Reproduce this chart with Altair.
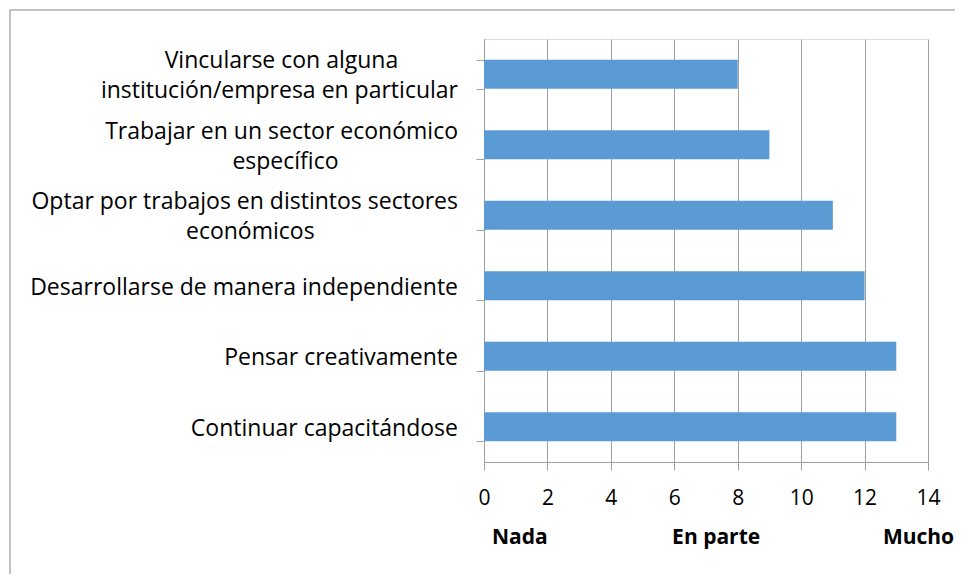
import altair as alt
import pandas as pd

categories = [
    "Vincularse con alguna|institución/empresa en particular",
    "Trabajar en un sector económico|específico",
    "Optar por trabajos en distintos sectores|económicos",
    "Desarrollarse de manera independiente",
    "Pensar creativamente",
    "Continuar capacitándose",
]
values = [8, 9, 11, 12, 13, 13]

scale_labels = ["Nada", "En parte", "Mucho"]
scale_label_pos = [1.13, 7.32, 13.7]

FONT = "Open Sans"
GRID = "#a0a0a0"
NBSP = "\u00a0"
ZWSP = "\u200b"  # keeps trailing padding from being trimmed
NBSP_EM = 0.26


def est_width(s):
    # rough Open Sans advance widths (em units)
    w = 0.0
    for ch in s:
        if ch in "iljí":
            w += 0.25
        elif ch in "tfr":
            w += 0.35
        elif ch == " ":
            w += 0.26
        elif ch == "/":
            w += 0.37
        elif ch in "mw":
            w += 0.86
        elif ch.isupper():
            w += 0.62
        else:
            w += 0.56
    return w


def pad(line, widest):
    n = int(round((widest - est_width(line)) / 2 / NBSP_EM))
    return line + NBSP * n + ZWSP if n > 0 else line


rows = []
for c, v in zip(categories, values):
    parts = c.split("|")
    l1 = parts[0]
    l2 = parts[1] if len(parts) > 1 else ""
    if l2:
        widest = max(est_width(l1), est_width(l2))
        l1, l2 = pad(l1, widest), pad(l2, widest)
    rows.append({"cat": c, "val": v, "l1": l1, "l2": l2})

df = pd.DataFrame(rows)
df_lab = pd.DataFrame({"lab": scale_labels, "pos": scale_label_pos})
df_frame = pd.DataFrame({"a": [0]})

xscale = alt.Scale(domain=[0, 14], nice=False)
yscale = alt.Scale(paddingInner=0.59, paddingOuter=0.295)

base = alt.Chart(df)

bars = base.mark_bar(color="#5B9BD5").encode(
    x=alt.X(
        "val:Q",
        scale=xscale,
        axis=alt.Axis(
            values=[0, 2, 4, 6, 8, 10, 12, 14],
            title=None,
            grid=True,
            gridColor=GRID,
            gridWidth=1,
            domainColor=GRID,
            tickColor=GRID,
            tickSize=8,
            labelFont=FONT,
            labelFontSize=21,
            labelColor="#000000",
            labelPadding=17,
            labelFlush=False,
        ),
    ),
    y=alt.Y(
        "cat:N",
        sort=None,
        scale=yscale,
        axis=alt.Axis(
            title=None,
            tickBand="extent",
            domainColor=GRID,
            tickColor=GRID,
            tickSize=8,
            labels=False,
        ),
    ),
)

ytext = dict(font=FONT, fontSize=23, color="#000000", align="right", baseline="middle")
yenc = alt.Y("cat:N", sort=None, scale=yscale)

single = base.transform_filter("datum.l2 == ''").mark_text(dy=2, **ytext).encode(
    y=yenc, x=alt.value(-26), text="l1:N"
)
first = base.transform_filter("datum.l2 != ''").mark_text(dy=-13, **ytext).encode(
    y=yenc, x=alt.value(-26), text="l1:N"
)
second = base.transform_filter("datum.l2 != ''").mark_text(dy=17, **ytext).encode(
    y=yenc, x=alt.value(-26), text="l2:N"
)

scale_text = alt.Chart(df_lab).mark_text(
    font=FONT, fontSize=21, fontWeight="bold", color="#000000", baseline="middle"
).encode(
    x=alt.X("pos:Q", scale=xscale),
    y=alt.value(499),
    text="lab:N",
)

frame = alt.Chart(df_frame).mark_rect(
    fill=None, fillOpacity=0, stroke="#b0b0b0", strokeWidth=1.5
).encode(
    x=alt.value(-474), x2=alt.value(1200), y=alt.value(-29), y2=alt.value(1200)
)

chart = alt.layer(frame, bars, single, first, second, scale_text).properties(
    width=444,
    height=423,
    padding={"left": 476, "top": 31, "right": 27, "bottom": 112},
    autosize=alt.AutoSizeParams(type="none"),
).configure_view(stroke=None).configure(background="white")

chart.save("out.html", embed_options={"renderer": "svg", "actions": False})
